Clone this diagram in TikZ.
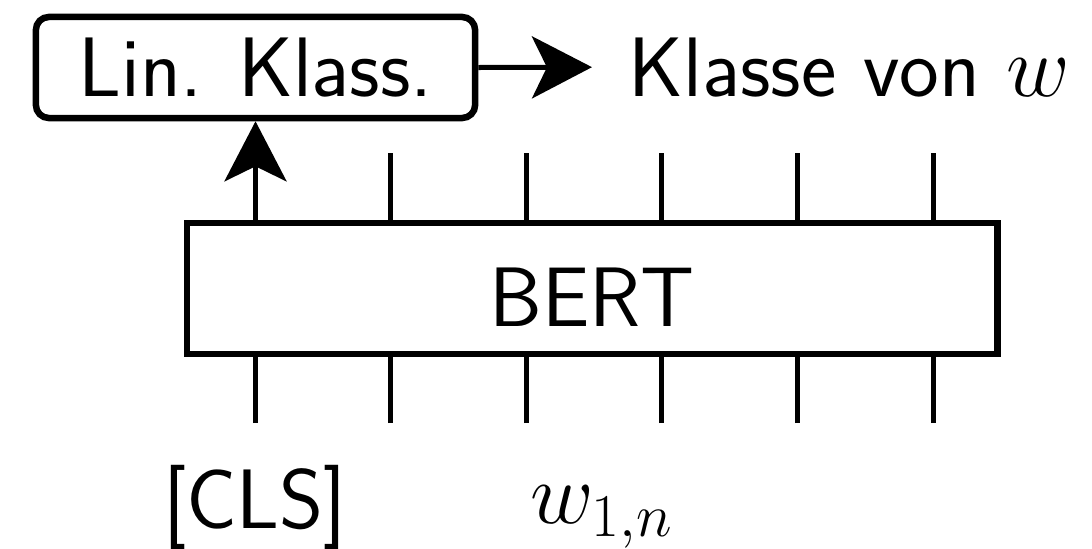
\documentclass[tikz,border=0pt]{standalone}
\usepackage{fontspec}
\usetikzlibrary{arrows.meta}

\begin{document}
\begin{tikzpicture}[x=0.01cm, y=-0.01cm,
    every node/.style={font=\sffamily\fontsize{24}{29}\selectfont},
    box/.style={draw, line width=0.065cm, inner sep=0pt, text depth=0pt},
    tick/.style={line width=0.05cm},
    arr/.style={line width=0.05cm, -{Stealth[length=0.6cm, width=0.62cm, inset=0.15cm]}},
    lbl/.style={inner sep=0pt, anchor=base}]
  \useasboundingbox (0,0) rectangle (1092,548);

  % encoder and classifier
  \node[box, minimum width=8.10cm, minimum height=1.31cm, text height=0.75cm] (bert) at (592,288.5) {BERT};
  \node[box, rounded corners=0.13cm, minimum width=4.39cm, minimum height=1.01cm, text height=0.58cm] (lin) at (255.5,67.5) {Lin. Klass.};
  \node[inner sep=0pt, anchor=base west] (klasse) at (628,96) {Klasse von $w$};

  % token lines in and out
  \foreach \i in {0,...,5} {
    \coordinate (bot\i) at (255+135.6*\i,423);
    \draw[tick] (bot\i) -- (bot\i |- bert.south);
  }
  \foreach \i in {1,...,5} {
    \coordinate (top\i) at (255+135.6*\i,153);
    \draw[tick] (top\i) -- (top\i |- bert.north);
  }

  % [CLS] output to the classifier
  \draw[arr] (lin.south |- bert.north) -- (lin.south);
  \draw[arr, shorten >=0.36cm] (lin.east) -- (klasse.west);

  % inputs
  \node[lbl] (cls) at (255,528) {[CLS]};
  \node[lbl] (tok) at (602,523) {$w_{1,n}$};
\end{tikzpicture}
\end{document}
